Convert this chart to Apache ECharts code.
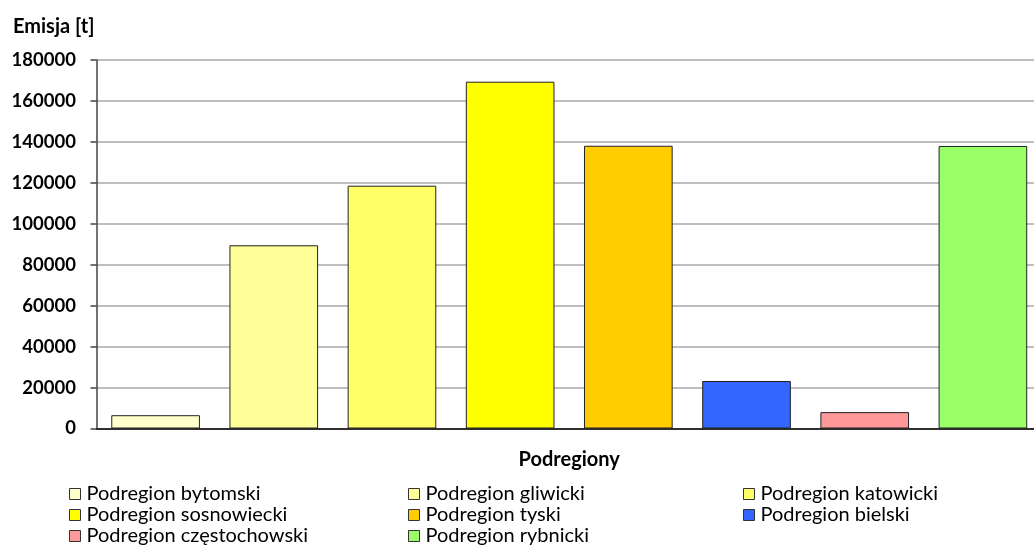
<!DOCTYPE html>
<html><head><meta charset="utf-8">
<script src="https://cdn.jsdelivr.net/npm/echarts@6/dist/echarts.min.js"></script>
<style>html,body{margin:0;padding:0;background:#fff;overflow:hidden;width:1034px;height:558px}#c{width:1042px;height:558px}</style>
</head><body><div id="c"></div>
<script>
const categories = ['Podregion bytomski','Podregion gliwicki','Podregion katowicki','Podregion sosnowiecki','Podregion tyski','Podregion bielski','Podregion częstochowski','Podregion rybnicki'];
const values = [6500, 89500, 118600, 169400, 138100, 23200, 8000, 138000];
const colors = ['#FFFFCC','#FFFF99','#FFFF66','#FFFF00','#FFCC00','#3366FF','#FF9999','#99FF66'];
const yTicks = {min: 0, max: 180000, interval: 20000};

const FONT = 'Lato';
const series = categories.map((name, i) => ({
  name: name,
  type: 'bar',
  stack: 'all',
  barWidth: '75%',
  data: categories.map((c, j) => j === i ? values[i] : '-'),
  itemStyle: {color: colors[i], borderColor: '#222', borderWidth: 1},
  emphasis: {disabled: true},
  animation: false
}));

const legendCols = [[0,3,6],[1,4,7],[2,5]];
const legendLefts = [69, 408, 743];
const legends = legendCols.map((idx, k) => ({
  orient: 'vertical',
  left: legendLefts[k],
  top: 484,
  height: 120,
  padding: 0,
  itemGap: 1,
  itemWidth: 11,
  itemHeight: 11,
  icon: 'rect',
  data: idx.map(i => ({name: categories[i], itemStyle: {borderColor: '#333', borderWidth: 1}})),
  textStyle: {fontFamily: FONT, fontSize: 20, color: '#000', padding: [0,0,0,1]},
  selectedMode: false
}));

const chart = echarts.init(document.getElementById('c'), null, {renderer: 'canvas'});
chart.setOption({
  animation: false,
  backgroundColor: '#fff',
  grid: {left: 96.5, right: 0, top: 60, bottom: 129.5, containLabel: false},
  title: {text: 'Emisja [t]', left: 13, top: 17, padding: 0, textStyle: {fontFamily: FONT, fontSize: 20, fontWeight: 'bold', color: '#000'}},
  legend: legends,
  xAxis: {
    type: 'category',
    data: categories,
    name: 'Podregiony',
    nameLocation: 'middle',
    nameGap: 21,
    nameTextStyle: {fontFamily: FONT, fontSize: 20, fontWeight: 'bold', color: '#000'},
    axisLabel: {show: false},
    axisTick: {show: false},
    axisLine: {lineStyle: {color: '#000', width: 1.5}}
  },
  yAxis: {
    type: 'value',
    min: yTicks.min, max: yTicks.max, interval: yTicks.interval,
    axisLine: {show: true, lineStyle: {color: '#444', width: 1.5}},
    axisTick: {show: true, length: 6, lineStyle: {color: '#444', width: 1.5}},
    axisLabel: {fontFamily: FONT, fontSize: 18.5, fontWeight: 'bold', color: '#000', margin: 20.5,
      formatter: v => String(v)},
    splitLine: {lineStyle: {color: '#aaa', width: 1.5}}
  },
  series: series
});
</script></body></html>
